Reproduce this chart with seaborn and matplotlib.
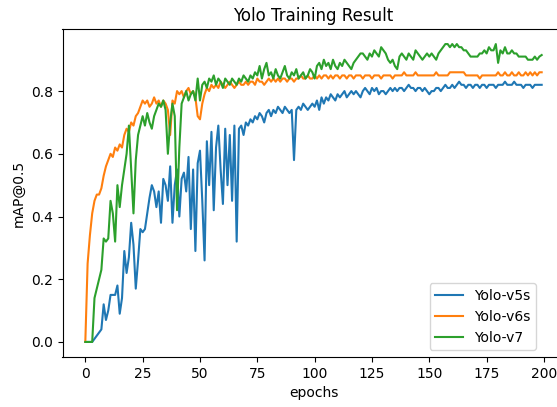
import numpy as np
import pandas as pd
import matplotlib
matplotlib.use("Agg")
import matplotlib.pyplot as plt
import seaborn as sns

series_names = ["Yolo-v5s", "Yolo-v6s", "Yolo-v7"]

v5s = [
    0.0, 0.0, 0.0, 0.0, 0.01, 0.02, 0.03, 0.04, 0.12, 0.07,
    0.10, 0.15, 0.15, 0.15, 0.18, 0.09, 0.14, 0.29, 0.22, 0.27,
    0.38, 0.31, 0.17, 0.26, 0.36, 0.35, 0.36, 0.41, 0.46, 0.50,
    0.48, 0.43, 0.48, 0.38, 0.52, 0.50, 0.45, 0.56, 0.38, 0.50,
    0.55, 0.40, 0.52, 0.54, 0.48, 0.59, 0.36, 0.55, 0.29, 0.57,
    0.61, 0.45, 0.26, 0.64, 0.50, 0.67, 0.42, 0.62, 0.69, 0.55,
    0.44, 0.68, 0.50, 0.66, 0.45, 0.69, 0.32, 0.68, 0.69, 0.66,
    0.70, 0.69, 0.71, 0.70, 0.72, 0.71, 0.73, 0.72, 0.70, 0.73,
    0.74, 0.72, 0.74, 0.73, 0.75, 0.74, 0.73, 0.75, 0.74, 0.73,
    0.74, 0.58, 0.74, 0.75, 0.74, 0.76, 0.75, 0.74, 0.75, 0.76,
    0.75, 0.77, 0.74, 0.78, 0.76, 0.78, 0.77, 0.79, 0.78, 0.77,
    0.79, 0.78, 0.79, 0.80, 0.78, 0.79, 0.80, 0.79, 0.80, 0.79,
    0.78, 0.80, 0.81, 0.80, 0.79, 0.81, 0.80, 0.81, 0.79, 0.80,
    0.80, 0.79, 0.80, 0.81, 0.80, 0.81, 0.80, 0.81, 0.81, 0.80,
    0.81, 0.82, 0.81, 0.81, 0.80, 0.81, 0.81, 0.80, 0.81, 0.80,
    0.79, 0.80, 0.80, 0.81, 0.81, 0.80, 0.81, 0.82, 0.81, 0.81,
    0.82, 0.81, 0.82, 0.83, 0.82, 0.82, 0.81, 0.82, 0.82, 0.81,
    0.82, 0.82, 0.81, 0.82, 0.82, 0.81, 0.82, 0.82, 0.82, 0.81,
    0.82, 0.82, 0.82, 0.83, 0.82, 0.82, 0.82, 0.83, 0.82, 0.82,
    0.82, 0.81, 0.82, 0.82, 0.82, 0.81, 0.82, 0.82, 0.82, 0.82,
]

v6s = [
    0.0, 0.25, 0.34, 0.41, 0.45, 0.47, 0.47, 0.49, 0.53, 0.56,
    0.58, 0.60, 0.59, 0.62, 0.61, 0.63, 0.62, 0.66, 0.68, 0.67,
    0.70, 0.69, 0.72, 0.73, 0.75, 0.77, 0.76, 0.77, 0.75, 0.76,
    0.78, 0.76, 0.77, 0.75, 0.77, 0.76, 0.74, 0.66, 0.77, 0.76,
    0.80, 0.79, 0.80, 0.78, 0.80, 0.81, 0.79, 0.80, 0.78, 0.72,
    0.71, 0.76, 0.79, 0.81, 0.80, 0.82, 0.81, 0.82, 0.81, 0.83,
    0.82, 0.81, 0.82, 0.83, 0.82, 0.81, 0.82, 0.83, 0.82, 0.82,
    0.83, 0.82, 0.83, 0.83, 0.82, 0.84, 0.83, 0.83, 0.82, 0.83,
    0.84, 0.83, 0.84, 0.83, 0.84, 0.83, 0.84, 0.84, 0.83, 0.84,
    0.84, 0.83, 0.84, 0.84, 0.85, 0.84, 0.84, 0.85, 0.84, 0.84,
    0.85, 0.84, 0.85, 0.84, 0.85, 0.85, 0.84, 0.85, 0.84, 0.85,
    0.85, 0.84, 0.85, 0.85, 0.84, 0.85, 0.85, 0.84, 0.85, 0.85,
    0.85, 0.84, 0.85, 0.85, 0.85, 0.84, 0.85, 0.85, 0.85, 0.84,
    0.85, 0.85, 0.85, 0.85, 0.84, 0.85, 0.85, 0.85, 0.85, 0.86,
    0.85, 0.85, 0.85, 0.85, 0.86, 0.85, 0.85, 0.85, 0.85, 0.85,
    0.85, 0.85, 0.85, 0.86, 0.85, 0.85, 0.85, 0.85, 0.85, 0.86,
    0.86, 0.86, 0.86, 0.86, 0.86, 0.86, 0.85, 0.85, 0.85, 0.85,
    0.85, 0.85, 0.84, 0.85, 0.85, 0.85, 0.85, 0.85, 0.85, 0.85,
    0.86, 0.85, 0.85, 0.86, 0.85, 0.85, 0.86, 0.85, 0.85, 0.86,
    0.85, 0.85, 0.86, 0.85, 0.86, 0.85, 0.86, 0.85, 0.86, 0.86,
]

v7 = [
    0.0, 0.0, 0.0, 0.0, 0.14, 0.17, 0.20, 0.23, 0.33, 0.32,
    0.33, 0.45, 0.41, 0.32, 0.50, 0.43, 0.50, 0.55, 0.60, 0.69,
    0.55, 0.41, 0.58, 0.66, 0.69, 0.72, 0.69, 0.73, 0.70, 0.68,
    0.72, 0.74, 0.76, 0.75, 0.77, 0.74, 0.60, 0.70, 0.76, 0.72,
    0.42, 0.62, 0.76, 0.78, 0.80, 0.77, 0.79, 0.80, 0.77, 0.84,
    0.77, 0.82, 0.83, 0.81, 0.84, 0.83, 0.85, 0.82, 0.84, 0.83,
    0.81, 0.84, 0.83, 0.82, 0.84, 0.83, 0.82, 0.84, 0.83, 0.85,
    0.84, 0.83, 0.85, 0.84, 0.86, 0.85, 0.88, 0.84, 0.87, 0.89,
    0.85, 0.86, 0.84, 0.87, 0.85, 0.84, 0.86, 0.88, 0.85, 0.84,
    0.86, 0.85, 0.87, 0.84, 0.85, 0.86, 0.84, 0.85, 0.87, 0.86,
    0.84, 0.88, 0.89, 0.87, 0.90, 0.88, 0.89, 0.87, 0.90, 0.88,
    0.87, 0.89, 0.88, 0.90, 0.89, 0.88, 0.87, 0.89, 0.90, 0.91,
    0.92, 0.92, 0.91, 0.90, 0.92, 0.91, 0.93, 0.92, 0.91, 0.94,
    0.93, 0.92, 0.90, 0.89, 0.90, 0.88, 0.87, 0.91, 0.92, 0.91,
    0.90, 0.92, 0.91, 0.90, 0.93, 0.92, 0.91, 0.90, 0.91, 0.92,
    0.91, 0.92, 0.91, 0.90, 0.92, 0.93, 0.94, 0.95, 0.95, 0.94,
    0.95, 0.94, 0.95, 0.94, 0.94, 0.93, 0.93, 0.92, 0.91, 0.91,
    0.91, 0.91, 0.92, 0.92, 0.93, 0.92, 0.94, 0.93, 0.93, 0.95,
    0.89, 0.93, 0.92, 0.94, 0.92, 0.92, 0.93, 0.92, 0.92, 0.91,
    0.91, 0.91, 0.91, 0.90, 0.90, 0.90, 0.91, 0.90, 0.91, 0.915,
]

assert len(v5s) == 200 and len(v6s) == 200 and len(v7) == 200

frames = []
for name, vals in zip(series_names, [v5s, v6s, v7]):
    frames.append(pd.DataFrame({"epochs": np.arange(len(vals)), "mAP@0.5": vals, "model": name}))
df = pd.concat(frames, ignore_index=True)

plt.rcParams["font.family"] = ["DejaVu Sans"]
fig = plt.figure(figsize=(5.57, 4.07), dpi=100)
W, H = 557, 407
left, right, top, bottom = 62.5, 564.5, 29, 357
ax = fig.add_axes([left / W, 1 - bottom / H, (right - left) / W, (bottom - top) / H])

sns.lineplot(data=df, x="epochs", y="mAP@0.5", hue="model",
             palette=["#1f77b4", "#ff7f0e", "#2ca02c"], linewidth=1.5, ax=ax)

ax.set_xlim(-9.95, 208.95)
ax.set_ylim(-0.048, 0.998)
ax.set_xticks([0, 25, 50, 75, 100, 125, 150, 175, 200])
ax.set_yticks([0.0, 0.2, 0.4, 0.6, 0.8])
ax.set_xlabel("epochs")
ax.set_ylabel("mAP@0.5")
ax.set_title("Yolo Training Result", fontsize=12)
handles, labels = ax.get_legend_handles_labels()
ax.legend(handles, labels, loc="lower right", bbox_to_anchor=(0.957, 0.0), frameon=True)

fig.savefig("out.png", dpi=100)
